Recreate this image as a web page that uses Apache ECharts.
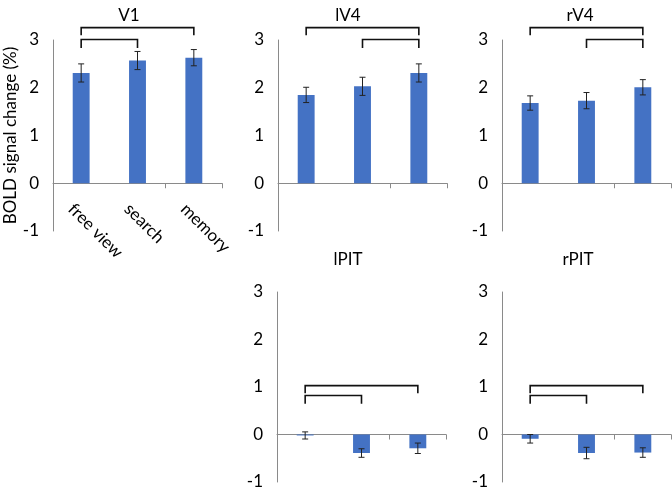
<!DOCTYPE html>
<html><head><meta charset="utf-8">
<script src="https://cdn.jsdelivr.net/npm/echarts@6/dist/echarts.min.js"></script>
<style>html,body{margin:0;padding:0;background:#fff}#c{width:672px;height:491px}</style>
</head><body><div id="c"></div>
<script>
const categories = ['free view', 'search', 'memory'];
const panelNames = ['V1', 'lV4', 'rV4', 'lPIT', 'rPIT'];
const v1Mean = [2.31, 2.57, 2.63];
const v1Err = [0.19, 0.19, 0.17];
const lv4Mean = [1.85, 2.03, 2.31];
const lv4Err = [0.16, 0.19, 0.19];
const rv4Mean = [1.68, 1.73, 2.01];
const rv4Err = [0.15, 0.17, 0.16];
const lpitMean = [-0.02, -0.39, -0.29];
const lpitErr = [0.075, 0.09, 0.11];
const rpitMean = [-0.09, -0.39, -0.38];
const rpitErr = [0.09, 0.12, 0.10];
// brackets: [fromCategory, toCategory, level, tickEnd]
const v1Brackets = [[0, 2, 3.26, 3.1], [0, 1, 3.01, 2.83]];
const lv4Brackets = [[0, 2, 3.26, 3.1], [1, 2, 3.01, 2.83]];
const rv4Brackets = [[0, 2, 3.26, 3.1], [1, 2, 3.01, 2.83]];
const lpitBrackets = [[0, 2, 1.03, 0.87], [0, 1, 0.82, 0.65]];
const rpitBrackets = [[0, 2, 1.03, 0.87], [0, 1, 0.82, 0.65]];
const yMin = -1, yMax = 3, yInterval = 1;

const means = [v1Mean, lv4Mean, rv4Mean, lpitMean, rpitMean];
const errs = [v1Err, lv4Err, rv4Err, lpitErr, rpitErr];
const brackets = [v1Brackets, lv4Brackets, rv4Brackets, lpitBrackets, rpitBrackets];

const FONT = 'Lato';
const grids = [
  {left: 53, top: 40, width: 169, height: 191},
  {left: 278, top: 40, width: 169, height: 191},
  {left: 502, top: 40, width: 169, height: 191},
  {left: 277, top: 292, width: 169, height: 190},
  {left: 502, top: 292, width: 169, height: 190}
];
const titlePos = [[124, 2], [343, 2], [575, 2], [343, 246], [573, 246]];

const xAxes = [], yAxes = [], series = [], titles = [];
panelNames.forEach((name, i) => {
  titles.push({text: name, left: titlePos[i][0], top: titlePos[i][1], textAlign: 'center',
    textStyle: {fontFamily: FONT, fontSize: 17, fontWeight: 'normal', color: '#000'}});
  xAxes.push({type: 'category', gridIndex: i, data: categories,
    axisLine: {onZero: true, lineStyle: {color: '#8a8a8a', width: 1}},
    axisTick: {show: true, length: 5, lineStyle: {color: '#8a8a8a'}},
    axisLabel: {show: false}});
  yAxes.push({type: 'value', gridIndex: i, min: yMin, max: yMax, interval: yInterval,
    splitLine: {show: false},
    axisLine: {show: true, lineStyle: {color: '#8a8a8a', width: 1}},
    axisTick: {show: false},
    axisLabel: {margin: 14, fontFamily: FONT, fontSize: 17, color: '#000'},
    name: i === 0 ? 'BOLD signal change (%)' : '',
    nameLocation: 'middle', nameGap: 33, nameRotate: 90,
    nameTextStyle: {fontFamily: FONT, fontSize: 17, color: '#000'}});
  series.push({type: 'bar', xAxisIndex: i, yAxisIndex: i, data: means[i], barWidth: '30%',
    itemStyle: {color: '#4472C4'}, silent: true});
  series.push({type: 'custom', xAxisIndex: i, yAxisIndex: i,
    data: means[i].map((m, k) => [k, m - errs[i][k], m + errs[i][k]]),
    renderItem: (params, api) => {
      const lo = api.coord([api.value(0), api.value(1)]);
      const hi = api.coord([api.value(0), api.value(2)]);
      const hw = 3;
      const st = {stroke: '#222', lineWidth: 1};
      return {type: 'group', children: [
        {type: 'line', shape: {x1: lo[0], y1: lo[1], x2: hi[0], y2: hi[1]}, style: st},
        {type: 'line', shape: {x1: lo[0] - hw, y1: lo[1], x2: lo[0] + hw, y2: lo[1]}, style: st},
        {type: 'line', shape: {x1: hi[0] - hw, y1: hi[1], x2: hi[0] + hw, y2: hi[1]}, style: st}
      ]};
    }, z: 5, silent: true});
  series.push({type: 'custom', xAxisIndex: i, yAxisIndex: i, clip: false,
    data: brackets[i],
    renderItem: (params, api) => {
      const a0 = api.coord([api.value(0), api.value(3)]);
      const a1 = api.coord([api.value(0), api.value(2)]);
      const b1 = api.coord([api.value(1), api.value(2)]);
      const b0 = api.coord([api.value(1), api.value(3)]);
      return {type: 'polyline', shape: {points: [a0, a1, b1, b0]},
        style: {stroke: '#111', lineWidth: 1.6, fill: null}};
    }, z: 6, silent: true});
});
// label-only category axis for V1 placed at the zero line
xAxes.push({type: 'category', gridIndex: 0, data: categories, position: 'bottom',
  offset: -48, axisLine: {show: false, onZero: false}, axisTick: {show: false},
  axisLabel: {show: true, rotate: -45, margin: 13, verticalAlign: 'top', padding: [6, 0, 0, 0],
    fontFamily: FONT, fontSize: 17, color: '#000'}});

const chart = echarts.init(document.getElementById('c'));
chart.setOption({animation: false, backgroundColor: '#fff', title: titles,
  grid: grids, xAxis: xAxes, yAxis: yAxes, series: series});
</script></body></html>
